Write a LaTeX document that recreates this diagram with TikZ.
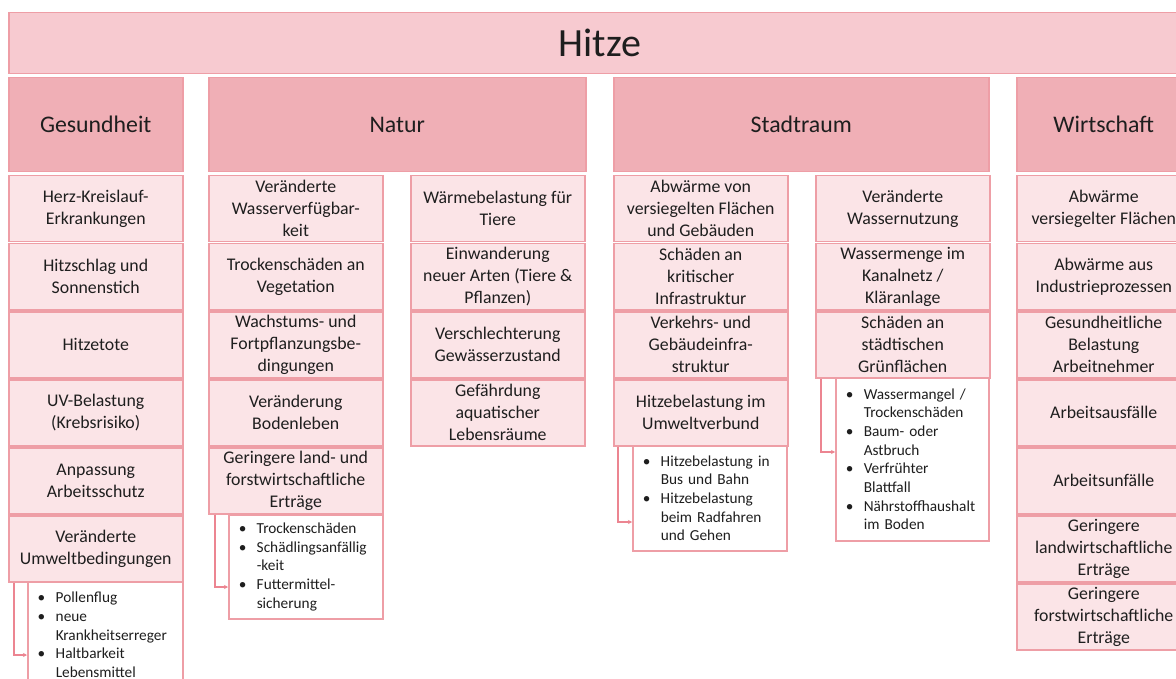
\documentclass[tikz,border=0pt]{standalone}
\usepackage{fontspec}
\setmainfont{Carlito}
\usetikzlibrary{arrows.meta}
\definecolor{titel}{HTML}{F7CAD0}
\definecolor{kopf}{HTML}{F0AFB6}
\definecolor{feld}{HTML}{FBE4E7}
\definecolor{rand}{HTML}{EE9EA6}
\definecolor{pfeilrot}{HTML}{EC8591}
\definecolor{schrift}{HTML}{1E1E1E}
\newcommand{\bul}[1]{\makebox[18pt][l]{\textbullet}#1}
\newcommand{\wei}[1]{\hspace*{18pt}#1}

\begin{document}
\begin{tikzpicture}[x=1pt,y=-1pt,
  box/.style={draw=rand,line width=1.5pt,anchor=north west,inner sep=0pt,align=center,text=schrift},
  titelbox/.style={box,fill=titel,minimum width=1182,minimum height=61,font=\fontsize{40}{44}\selectfont},
  kopfbox/.style={box,fill=kopf,minimum height=94,font=\fontsize{23.8}{28}\selectfont},
  feldbox/.style={box,fill=feld,minimum width=174,minimum height=66,font=\fontsize{17.8}{22}\selectfont},
  listbox/.style={box,fill=white,align=left,inner xsep=10pt,font=\fontsize{15.3}{18.7}\selectfont},
  pfeil/.style={draw=pfeilrot,line width=1.2pt,-{Stealth[length=4pt,width=4pt]}}]
\useasboundingbox (0,0) rectangle (1176,679);
\fill[white] (0,0) rectangle (1176,679);
\clip (0,0) rectangle (1176,679);

\node[titelbox] (hitze) at (8,12) {Hitze};
\node[kopfbox,minimum width=174] (gesundheit) at (8,77) {Gesundheit};
\node[kopfbox,minimum width=377] (natur) at (208,77) {Natur};
\node[kopfbox,minimum width=375] (stadtraum) at (613,77) {Stadtraum};
\node[kopfbox,minimum width=174] (wirtschaft) at (1016,77) {Wirtschaft};

\foreach \t [count=\i] in {{Herz-Kreislauf-\\Erkrankungen},{Hitzschlag und\\Sonnenstich},{Hitzetote},{UV-Belastung\\(Krebsrisiko)},{Anpassung\\Arbeitsschutz},{Veränderte\\Umweltbedingungen}}
  \node[feldbox] (g\i) at (8,{175+68*(\i-1)}) {\t};
\foreach \t [count=\i] in {{Veränderte\\Wasserverfügbar-\\keit},{Trockenschäden an\\Vegetation},{Wachstums- und\\Fortpflanzungsbe-\\dingungen},{Veränderung\\Bodenleben},{Geringere land- und\\forstwirtschaftliche\\Erträge}}
  \node[feldbox] (na\i) at (208,{175+68*(\i-1)}) {\t};
\foreach \t [count=\i] in {{Wärmebelastung für\\Tiere},{Einwanderung\\neuer Arten (Tiere \&\\Pflanzen)},{Verschlechterung\\Gewässerzustand},{Gefährdung\\aquatischer\\Lebensräume}}
  \node[feldbox] (nb\i) at (410,{175+68*(\i-1)}) {\t};
\foreach \t [count=\i] in {{Abwärme von\\versiegelten Flächen\\und Gebäuden},{Schäden an\\kritischer\\Infrastruktur},{Verkehrs- und\\Gebäudeinfra-\\struktur},{Hitzebelastung im\\Umweltverbund}}
  \node[feldbox] (sa\i) at (613,{175+68*(\i-1)}) {\t};
\foreach \t [count=\i] in {{Veränderte\\Wassernutzung},{Wassermenge im\\Kanalnetz /\\Kläranlage},{Schäden an\\städtischen\\Grünflächen}}
  \node[feldbox] (sb\i) at (815,{175+68*(\i-1)}) {\t};
\foreach \t [count=\i] in {{Abwärme\\versiegelter Flächen},{Abwärme aus\\Industrieprozessen},{Gesundheitliche\\Belastung\\Arbeitnehmer},{Arbeitsausfälle},{Arbeitsunfälle},{Geringere\\landwirtschaftliche\\Erträge},{Geringere\\forstwirtschaftliche\\Erträge}}
  \node[feldbox] (w\i) at (1016,{175+68*(\i-1)}) {\t};

\node[listbox,text width=135,minimum height=106] (lg) at (27,581) {\bul{Pollenflug}\\\bul{neue}\\\wei{Krankheitserreger}\\\bul{Haltbarkeit}\\\wei{Lebensmittel}};
\node[listbox,text width=134,minimum height=104] (ln) at (228,514) {\bul{Trockenschäden}\\\bul{Schädlingsanfällig}\\\wei{-keit}\\\bul{Futtermittel-}\\\wei{sicherung}};
\node[listbox,text width=134,minimum height=105] (ls) at (632,445) {\bul{Hitzebelastung in}\\\wei{Bus und Bahn}\\\bul{Hitzebelastung}\\\wei{beim Radfahren}\\\wei{und Gehen}};
\node[listbox,text width=133,minimum height=163] (lt) at (835,377) {\bul{Wassermangel /}\\\wei{Trockenschäden}\\\bul{Baum- oder}\\\wei{Astbruch}\\\bul{Verfrühter}\\\wei{Blattfall}\\\bul{Nährstoffhaushalt}\\\wei{im Boden}};

\draw[pfeil] ([xshift=6]g6.south west) |- ([yshift=-74]lg.north west);
\draw[pfeil] ([xshift=7]na5.south west) |- ([yshift=-73]ln.north west);
\draw[pfeil] ([xshift=5]sa4.south west) |- ([yshift=-77]ls.north west);
\draw[pfeil] ([xshift=6]sb3.south west) |- ([yshift=-75]lt.north west);
\end{tikzpicture}
\end{document}
